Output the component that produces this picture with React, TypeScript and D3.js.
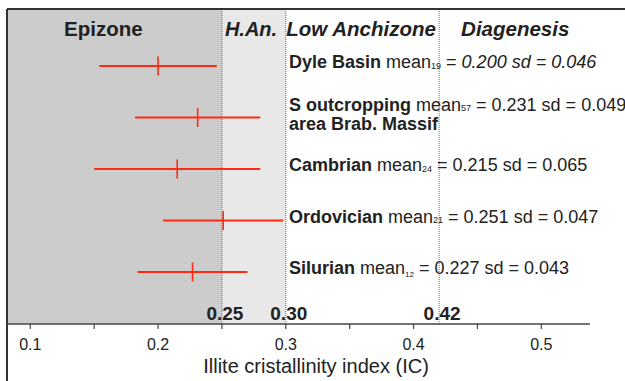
import React from "react";
import * as d3 from "d3";

const groups = ["Dyle Basin", "S outcropping", "Cambrian", "Ordovician", "Silurian"];
const secondLines = ["", "area Brab. Massif", "", "", ""];
const counts = ["19", "57", "24", "21", "12"];
const means = [0.2, 0.231, 0.215, 0.251, 0.227];
const sds = [0.046, 0.049, 0.065, 0.047, 0.043];
const meanTexts = ["0.200", "0.231", "0.215", "0.251", "0.227"];
const sdTexts = ["0.046", "0.049", "0.065", "0.047", "0.043"];
const boundaries = [0.25, 0.3, 0.42];
const boundaryLabels = ["0.25", "0.30", "0.42"];
const ticks = [0.1, 0.15, 0.2, 0.25, 0.3, 0.35, 0.4, 0.45, 0.5];
const tickLabels = ["0.1", "0.2", "0.3", "0.4", "0.5"];
const zones = ["Epizone", "H.An.", "Low Anchizone", "Diagenesis"];

const W = 625;
const H = 381;
const FONT = "'Liberation Sans', Arial, sans-serif";

export default function App() {
  const x = d3.scaleLinear().domain([0.1, 0.5]).range([30.3, 541.3]);
  const y = d3.scalePoint<string>().domain(groups).range([66, 272]);
  const left = 7;
  const top = 9;
  const axisY = 324;
  const red = "#ff2a12";
  const ink = "#222";

  return (
    <svg
      width={W}
      height={H}
      style={{ position: "absolute", left: 0, top: 0, background: "#fff" }}
      fontFamily={FONT}
    >
      {/* zone fills */}
      <rect x={left} y={top} width={x(0.25) - left} height={axisY - top} fill="#cccccc" />
      <rect x={x(0.25)} y={top} width={x(0.3) - x(0.25)} height={axisY - top} fill="#e8e8e8" />

      {/* boundary dotted lines */}
      {boundaries.map((b, i) => (
        <line
          key={"b" + i}
          x1={x(b)}
          x2={x(b)}
          y1={top}
          y2={axisY}
          stroke="#666"
          strokeWidth={1}
          strokeDasharray="1,1"
        />
      ))}

      {/* frame */}
      <line x1={left} x2={W} y1={top} y2={top} stroke="#333" strokeWidth={2} />
      <line x1={left} x2={left} y1={top} y2={H} stroke="#333" strokeWidth={2} />
      <line x1={left} x2={590} y1={axisY} y2={axisY} stroke="#444" strokeWidth={1.5} />

      {/* ticks */}
      {ticks.map((t, i) => (
        <line key={"t" + i} x1={x(t)} x2={x(t)} y1={axisY} y2={axisY + 5} stroke="#444" strokeWidth={1.2} />
      ))}
      {tickLabels.map((t, i) => (
        <text key={"tl" + i} x={x(+t)} y={350} textAnchor="middle" fontSize={16} fill={ink}>
          {t}
        </text>
      ))}
      <text x={316} y={373} textAnchor="middle" fontSize={20} fill={ink}>
        Illite cristallinity index (IC)
      </text>

      {/* boundary value labels */}
      {boundaries.map((b, i) => (
        <text
          key={"bl" + i}
          x={x(b) + 3}
          y={320}
          textAnchor="middle"
          fontSize={19}
          fontWeight="bold"
          fill={ink}
        >
          {boundaryLabels[i]}
        </text>
      ))}

      {/* zone labels */}
      <text x={64} y={36} fontSize={20.5} fontWeight="bold" fill={ink}>
        {zones[0]}
      </text>
      <text x={x(0.25) + 3} y={36} fontSize={20} fontWeight="bold" fontStyle="italic" fill={ink}>
        {zones[1]}
      </text>
      <text x={x(0.3) + 0.5} y={36} fontSize={20.5} fontWeight="bold" fontStyle="italic" fill={ink}>
        {zones[2]}
      </text>
      <text x={x(0.42) + 22} y={36} fontSize={20.5} fontWeight="bold" fontStyle="italic" fill={ink}>
        {zones[3]}
      </text>

      {/* error bars */}
      {groups.map((g, i) => {
        const cy = y(g)!;
        return (
          <g key={"e" + i}>
            <line
              x1={x(means[i] - sds[i])}
              x2={x(means[i] + sds[i])}
              y1={cy}
              y2={cy}
              stroke={red}
              strokeWidth={1.8}
            />
            <line x1={x(means[i])} x2={x(means[i])} y1={cy - 9.5} y2={cy + 9.5} stroke={red} strokeWidth={1.6} />
          </g>
        );
      })}

      {/* group labels */}
      {groups.map((g, i) => {
        const cy = y(g)!;
        const two = secondLines[i] !== "";
        const base = two ? cy - 7 : cy + 2;
        const italic = i === 0;
        const sub = i === 4 ? 3 : 0.5;
        return (
          <g key={"l" + i}>
            <text x={289} y={base} fontSize={18} fill={ink}>
              <tspan fontWeight="bold">{g}</tspan>
              <tspan> mean</tspan>
              <tspan fontSize={i === 4 ? 8 : 9} dy={sub}>{counts[i]}</tspan>
              <tspan dy={-sub}> = </tspan>
              <tspan fontStyle={italic ? "italic" : "normal"}>
                {meanTexts[i]} sd = {sdTexts[i]}
              </tspan>
            </text>
            {two && (
              <text x={289} y={base + 19} fontSize={18} fontWeight="bold" fill={ink}>
                {secondLines[i]}
              </text>
            )}
          </g>
        );
      })}
    </svg>
  );
}
